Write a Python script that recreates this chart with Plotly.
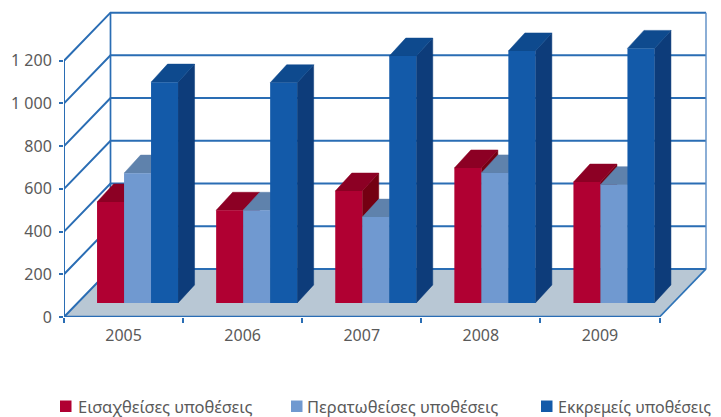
import plotly.graph_objects as go

categories = ["2005", "2006", "2007", "2008", "2009"]
incoming = [473, 434, 524, 632, 566]
closed = [608, 434, 402, 609, 554]
pending = [1034, 1031, 1156, 1180, 1192]
series_names = ["Εισαχθείσες υποθέσεις", "Περατωθείσες υποθέσεις", "Εκκρεμείς υποθέσεις"]
y_ticks = [0, 200, 400, 600, 800, 1000, 1200]
y_labels = ["0", "200", "400", "600", "800", "1 000", "1 200"]

# depth projection, in axis units
PX_X = 119.1
PX_Y = 0.2133
WALL_DX = 46.5 / PX_X
WALL_DY = 48 / PX_Y
BAR_SHIFT_X = 14 / PX_X
BAR_BASE = 14 / PX_Y
BAR_DX = 16.5 / PX_X
BAR_DY = 18 / PX_Y
BAR_W = 27 / PX_X
GRID = "#2A6DB4"
TEXT = "#5a5a5a"
FONT = "Noto Sans"
PLOT_W = 657
PLOT_H = 308.6

n = len(categories)
fig = go.Figure()


def poly(xs, ys, color, z):
    fig.add_trace(go.Scatter(x=xs, y=ys, mode="lines", fill="toself", fillcolor=color,
                             line=dict(color=color, width=0.5), hoverinfo="skip",
                             showlegend=False, zorder=z))


def line(xs, ys, z, width=2, color=GRID):
    fig.add_trace(go.Scatter(x=xs, y=ys, mode="lines", line=dict(color=color, width=width),
                             hoverinfo="skip", showlegend=False, zorder=z))


# floor
poly([0, n, n + WALL_DX, WALL_DX, 0], [0, 0, WALL_DY, WALL_DY, 0], "#B8C7D4", 0)

# walls and grid
gx, gy = [], []
for v in y_ticks:
    gx += [0, WALL_DX, n + WALL_DX, None]
    gy += [v, v + WALL_DY, v + WALL_DY, None]
line(gx, gy, 1)
top = y_ticks[-1] + WALL_DY
line([WALL_DX, WALL_DX], [WALL_DY, top], 1, 1.7)
line([n + WALL_DX, n + WALL_DX], [WALL_DY, top], 1, 1.4, "#5A8CC4")
line([n, n + WALL_DX], [0, WALL_DY], 1, 1.7, "#2F74B8")
line([0, 0], [0, y_ticks[-1]], 1, 2)
line([0, n], [0, 0], 9, 2.4)

styles = [
    ("#B00032", "#8C0024", "#740012"),
    ("#7099D0", "#5F82AC", "#5F82AC"),
    ("#135AA9", "#0E4A8E", "#0D3C7A"),
]
all_values = [incoming, closed, pending]

for s, (vals, st) in enumerate(zip(all_values, styles)):
    front, top_c, side_c = st
    left = [i + 0.5 + BAR_SHIFT_X + (s - 1.5) * BAR_W for i in range(n)]
    right = [x + BAR_W for x in left]
    sx, sy, tx, ty = [], [], [], []
    for l, r, v in zip(left, right, vals):
        h = BAR_BASE + v
        sx += [r, r + BAR_DX, r + BAR_DX, r, r, None]
        sy += [BAR_BASE, BAR_BASE + BAR_DY, h + BAR_DY, h, BAR_BASE, None]
        tx += [l, r, r + BAR_DX, l + BAR_DX, l, None]
        ty += [h, h, h + BAR_DY, h + BAR_DY, h, None]
    poly(sx, sy, side_c, 2 + s * 2)
    poly(tx, ty, top_c, 2 + s * 2)
    fig.add_trace(go.Bar(x=[x + BAR_W / 2 for x in left], y=vals, base=BAR_BASE, width=BAR_W,
                         marker=dict(color=front, line=dict(width=0)), name=series_names[s],
                         showlegend=False, zorder=3 + s * 2))

# legend
legend_sq = [60, 291, 541]
legend_tx = [76, 305, 556]
legend_size = [16.5, 16.5, 16]
for name, st, sq, tx, fs in zip(series_names, styles, legend_sq, legend_tx, legend_size):
    fig.add_shape(type="rect", xref="paper", yref="paper", x0=(sq - 64) / PLOT_W, x1=(sq + 11.5 - 64) / PLOT_W,
                  y0=-(411.5 - 316.6) / PLOT_H, y1=-(400 - 316.6) / PLOT_H,
                  fillcolor=st[0], line=dict(width=0))
    fig.add_annotation(xref="paper", yref="paper", x=(tx - 64) / PLOT_W, y=-(406 - 316.6) / PLOT_H,
                       text=name, showarrow=False, xanchor="left", yanchor="middle",
                       font=dict(family=FONT, size=fs, color=TEXT))

fig.update_layout(
    width=713, height=409, margin=dict(l=56, r=0, t=0, b=100.4, pad=0),
    paper_bgcolor="white", plot_bgcolor="white", barmode="overlay", showlegend=False,
    xaxis=dict(range=[0, PLOT_W / PX_X], showgrid=False, zeroline=False, showline=False,
               tickmode="array", tickvals=[i + 0.5 for i in range(n)], ticktext=categories,
               ticks="", tickfont=dict(family=FONT, size=16, color=TEXT), ticklabelstandoff=7,
               minor=dict(tickmode="array", tickvals=list(range(n + 1)), ticks="outside",
                          ticklen=5, tickwidth=1.7, tickcolor=GRID, showgrid=False)),
    yaxis=dict(range=[0, PLOT_H / PX_Y], showgrid=False, zeroline=False, showline=False,
               tickmode="array", tickvals=y_ticks, ticktext=y_labels, ticks="outside",
               ticklen=4, tickwidth=1.7, tickcolor=GRID, ticklabelstandoff=4,
               tickfont=dict(family=FONT, size=16, color=TEXT)),
)
fig.write_html("out.html", config={"displayModeBar": False})
